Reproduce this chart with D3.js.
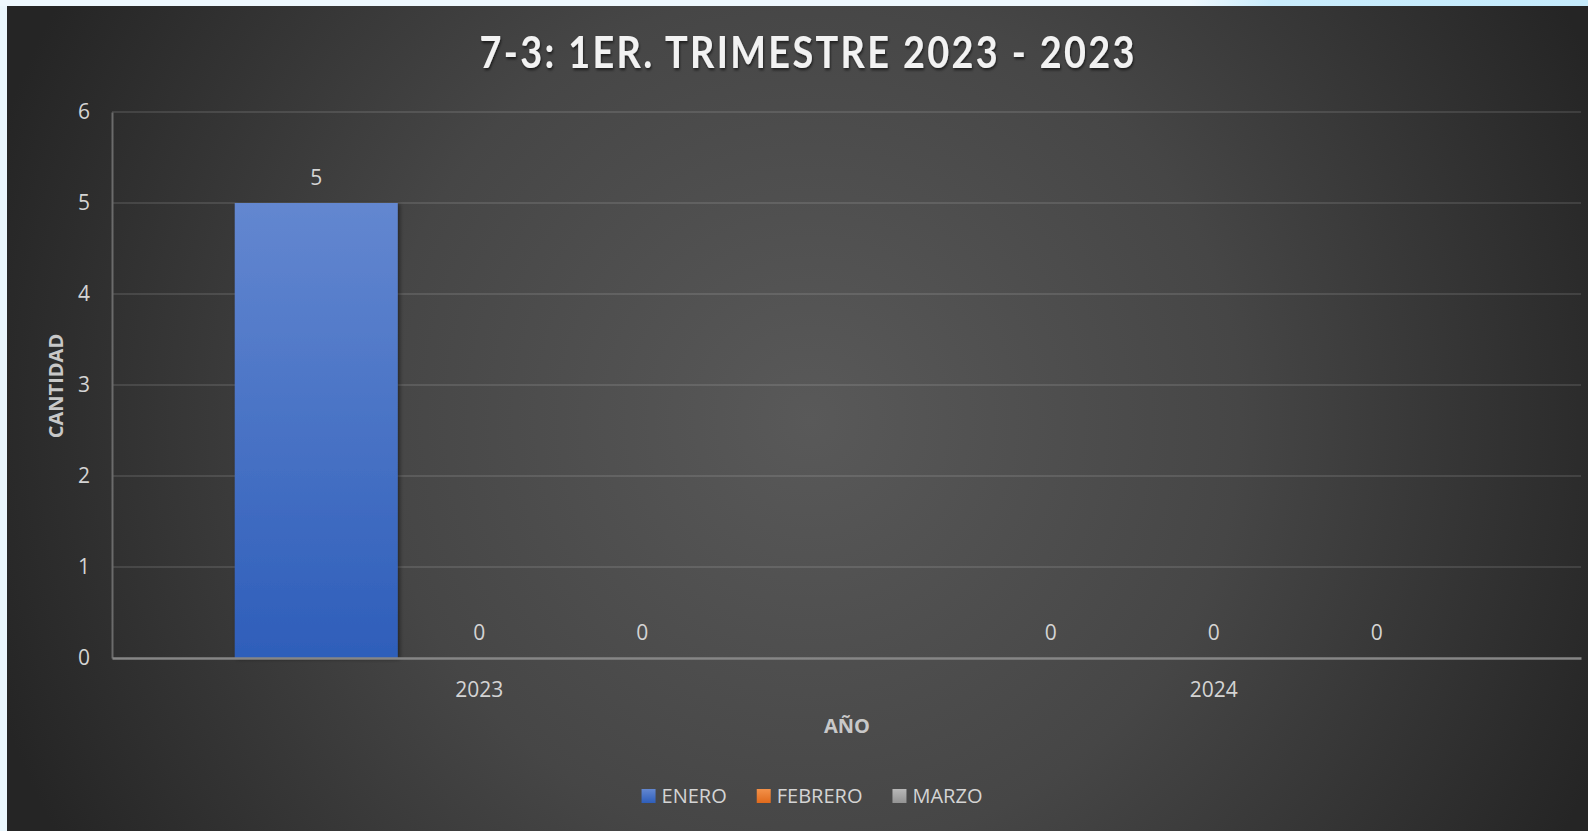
<!DOCTYPE html>
<html>
<head>
<meta charset="utf-8">
<script src="https://cdn.jsdelivr.net/npm/d3@7"></script>
<style>
  body { margin: 0; background: #eaf6fd; }
  svg { display: block; }
</style>
</head>
<body>
<div id="chart"></div>
<script>
const years = ["2023", "2024"];
const seriesNames = ["ENERO", "FEBRERO", "MARZO"];
const enero = [5, 0];
const febrero = [0, 0];
const marzo = [0, 0];
const yTicks = [0, 1, 2, 3, 4, 5, 6];

const width = 1588;
const height = 831;
const font = "'Open Sans', 'DejaVu Sans', sans-serif";
const textColor = "#d4d4d4";

const plot = { left: 112, right: 1581, top: 112, bottom: 658 };

// top / bottom colours of each series gradient
const colors = {
  ENERO: ["#6387d0", "#2e5eba"],
  FEBRERO: ["#f39149", "#e06a1c"],
  MARZO: ["#b8b8b8", "#939393"]
};

const rows = years.map((year, i) => ({
  year,
  values: [
    { name: "ENERO", value: enero[i] },
    { name: "FEBRERO", value: febrero[i] },
    { name: "MARZO", value: marzo[i] }
  ]
}));

const svg = d3.select("#chart").append("svg").attr("width", width).attr("height", height);
const defs = svg.append("defs");

const bgGrad = defs.append("radialGradient").attr("id", "bg")
  .attr("gradientUnits", "userSpaceOnUse")
  .attr("cx", 810).attr("cy", 420).attr("r", 860);
bgGrad.append("stop").attr("offset", 0).attr("stop-color", "#595959");
bgGrad.append("stop").attr("offset", 0.5).attr("stop-color", "#464646");
bgGrad.append("stop").attr("offset", 1).attr("stop-color", "#252525");

const topGrad = defs.append("linearGradient").attr("id", "topstrip");
topGrad.append("stop").attr("offset", 0).attr("stop-color", "#eef8fe");
topGrad.append("stop").attr("offset", 0.75).attr("stop-color", "#eef8fe");
topGrad.append("stop").attr("offset", 0.8).attr("stop-color", "#c9ecfc");
topGrad.append("stop").attr("offset", 1).attr("stop-color", "#c5ebfc");

seriesNames.forEach((s) => {
  const g = defs.append("linearGradient").attr("id", "grad-" + s)
    .attr("x1", 0).attr("y1", 0).attr("x2", 0).attr("y2", 1);
  g.append("stop").attr("offset", 0).attr("stop-color", colors[s][0]);
  g.append("stop").attr("offset", 1).attr("stop-color", colors[s][1]);
});

const shadow = defs.append("filter").attr("id", "shadow")
  .attr("x", "-20%").attr("y", "-20%").attr("width", "140%").attr("height", "140%");
shadow.append("feDropShadow").attr("dx", 2).attr("dy", 1).attr("stdDeviation", 2)
  .attr("flood-color", "#000").attr("flood-opacity", 0.45);

const titleShadow = defs.append("filter").attr("id", "tshadow");
titleShadow.append("feDropShadow").attr("dx", 1).attr("dy", 2).attr("stdDeviation", 1.5)
  .attr("flood-color", "#000").attr("flood-opacity", 0.6);

svg.append("rect").attr("width", width).attr("height", 6).attr("fill", "url(#topstrip)");
svg.append("rect").attr("x", 7).attr("y", 6).attr("width", width - 7).attr("height", height - 6)
  .attr("fill", "url(#bg)");

// scales
const x0 = d3.scaleBand().domain(years).range([plot.left, plot.right]);
const x1 = d3.scaleBand().domain(seriesNames).range([0, x0.bandwidth()])
  .paddingInner(0).paddingOuter(0.753);
const y = d3.scaleLinear().domain([0, 6]).range([plot.bottom, plot.top]);

// gridlines
svg.append("g")
  .selectAll("line")
  .data(yTicks.filter((d) => d > 0))
  .join("line")
  .attr("x1", plot.left).attr("x2", plot.right)
  .attr("y1", (d) => y(d)).attr("y2", (d) => y(d))
  .attr("stroke", "rgba(255,255,255,0.11)")
  .attr("stroke-width", 2);

// y axis
const yAxis = svg.append("g")
  .attr("transform", `translate(${plot.left},0)`)
  .call(d3.axisLeft(y).tickValues(yTicks).tickSize(0).tickPadding(22).tickFormat(d3.format("d")));
yAxis.select(".domain").attr("stroke", "#6b6b6b").attr("stroke-width", 2);
yAxis.selectAll("text").attr("fill", textColor).attr("font-size", 21).attr("font-family", font);

// bars
const groups = svg.append("g")
  .selectAll("g")
  .data(rows)
  .join("g")
  .attr("transform", (d) => `translate(${x0(d.year)},0)`);

groups.selectAll("rect")
  .data((d) => d.values.filter((v) => v.value > 0))
  .join("rect")
  .attr("x", (d) => x1(d.name))
  .attr("y", (d) => y(d.value))
  .attr("width", x1.bandwidth())
  .attr("height", (d) => y(0) - y(d.value))
  .attr("fill", (d) => `url(#grad-${d.name})`)
  .attr("filter", "url(#shadow)");

groups.selectAll("text")
  .data((d) => d.values)
  .join("text")
  .attr("x", (d) => x1(d.name) + x1.bandwidth() / 2)
  .attr("y", (d) => y(d.value) - 18)
  .attr("text-anchor", "middle")
  .attr("fill", textColor)
  .attr("font-size", 21)
  .attr("font-family", font)
  .text((d) => d.value);

// x axis
const xAxis = svg.append("g")
  .attr("transform", `translate(0,${plot.bottom})`)
  .call(d3.axisBottom(x0).tickSize(0).tickPadding(24));
xAxis.select(".domain").attr("stroke", "#868686").attr("stroke-width", 2.5);
xAxis.selectAll("text").attr("fill", textColor).attr("font-size", 21).attr("font-family", font);

// title: narrow glyphs with wide spacing, like the original
const titleScale = 0.88;
svg.append("text")
  .attr("transform", `translate(807,68) scale(${titleScale},1)`)
  .attr("text-anchor", "middle")
  .attr("fill", "#f2f2f2")
  .attr("font-size", 43)
  .attr("font-weight", "bold")
  .attr("font-family", "Lato, 'Open Sans', sans-serif")
  .attr("textLength", 655 / titleScale)
  .attr("lengthAdjust", "spacing")
  .attr("filter", "url(#tshadow)")
  .text("7-3: 1ER. TRIMESTRE 2023 - 2023");

// axis titles
svg.append("text")
  .attr("x", 847).attr("y", 733)
  .attr("text-anchor", "middle")
  .attr("fill", "#c8c8c8")
  .attr("font-size", 20).attr("font-weight", "bold").attr("font-family", font)
  .text("AÑO");

svg.append("text")
  .attr("transform", "translate(63,386) rotate(-90)")
  .attr("text-anchor", "middle")
  .attr("fill", "#c8c8c8")
  .attr("font-size", 20).attr("font-weight", "bold").attr("font-family", font)
  .text("CANTIDAD");

// legend
const legend = svg.append("g");
const items = legend.selectAll("g")
  .data(seriesNames)
  .join("g");
items.append("rect")
  .attr("y", 789).attr("width", 14).attr("height", 14)
  .attr("fill", (d) => `url(#grad-${d})`);
items.append("text")
  .attr("x", 20).attr("y", 803)
  .attr("fill", textColor)
  .attr("font-size", 20).attr("font-family", font)
  .text((d) => d);

let cursor = 0;
const offsets = [];
items.each(function () {
  offsets.push(cursor);
  const w = d3.select(this).select("text").node().getComputedTextLength();
  cursor += 20 + w + 30;
});
const legendWidth = cursor - 30;
const legendStart = 812 - legendWidth / 2;
items.attr("transform", (d, i) => `translate(${legendStart + offsets[i]},0)`);
</script>
</body>
</html>
